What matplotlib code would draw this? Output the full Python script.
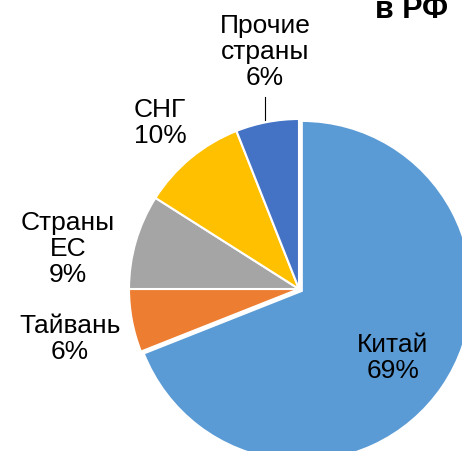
import matplotlib.pyplot as plt

plt.rcParams['font.family'] = ['Liberation Sans', 'DejaVu Sans']

names = ['Китай', 'Тайвань', 'Страны\nЕС', 'СНГ', 'Прочие\nстраны']
shares = [69, 6, 9, 10, 6]
colors = ['#5B9BD5', '#ED7D31', '#A5A5A5', '#FFC000', '#4472C4']
explode = [0.02, 0, 0, 0, 0]

W, H = 462, 452
cx, cy, R = 299, 290, 170   # pie centre and radius in pixels


def px(x, y):
    # pixel position -> data units (1 unit = pie radius)
    return (x - cx) / R, (cy - y) / R


fig = plt.figure(figsize=(W / 100, H / 100), dpi=100)
ax = fig.add_axes([0, 0, 1, 1])
ax.pie(shares, colors=colors, startangle=90, counterclock=False,
       explode=explode, radius=1,
       wedgeprops=dict(edgecolor='white', linewidth=1.5))
ax.set_xlim(-cx / R, (W - cx) / R)
ax.set_ylim((cy - H) / R, cy / R)
ax.set_aspect('auto')
ax.axis('off')

# label positions (pixels)
label_pos = [(393, 358), (70, 339), (68, 249), (160, 123), (265, 52)]
for name, s, (x, y) in zip(names, shares, label_pos):
    tx, ty = px(x, y)
    ax.text(tx, ty, f'{name}\n{s}%', ha='center', va='center',
            fontsize=19, linespacing=1.12)

# leader line for "Прочие страны"
x0, y0 = px(265, 98)
x1, y1 = px(265, 121)
ax.plot([x0, x1], [y0, y1], color='black', linewidth=0.8)

# title (top is cut by the frame, as in the source)
fig.text(448 / W, 1 - 18 / H, 'в РФ', ha='right', va='baseline',
         fontsize=22, fontweight='bold')

fig.savefig('out.png', dpi=100)
